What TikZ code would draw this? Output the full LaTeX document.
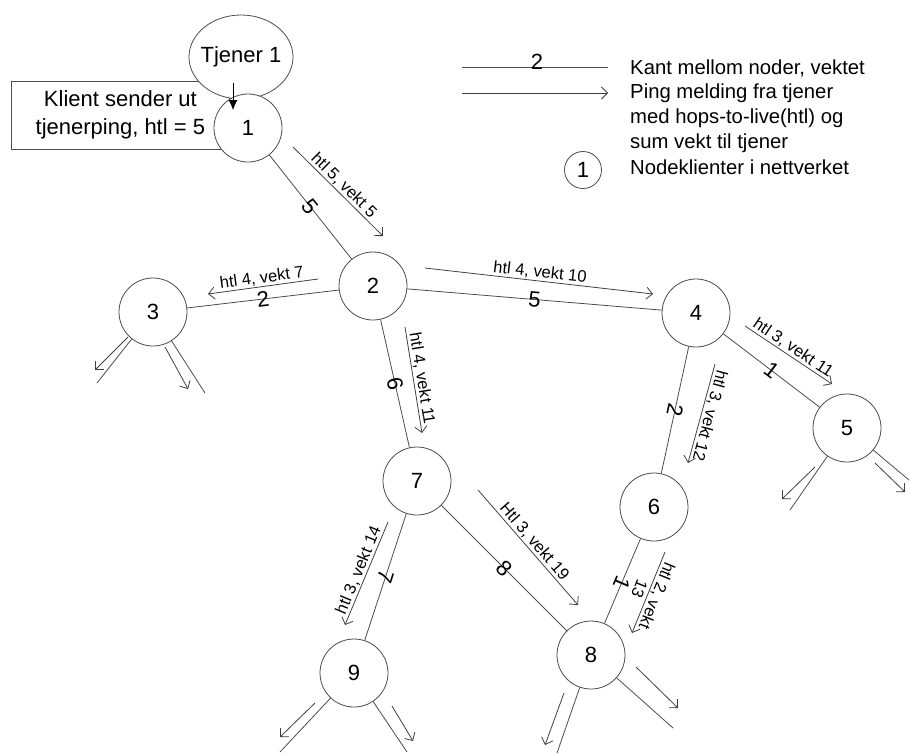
\documentclass[tikz,border=0pt]{standalone}
\usepackage{fontspec}
\setmainfont{Liberation Sans}
\usetikzlibrary{arrows.meta,shapes.geometric}

\begin{document}
\begin{tikzpicture}[x=1pt,y=-1pt,
  knot/.style={circle,draw=black!70,fill=white,line width=0.8pt,minimum size=68pt,inner sep=0pt,font=\fontsize{22}{26}\selectfont},
  kant/.style={draw=black!70,line width=0.8pt},
  ping/.style={draw=black!75,line width=0.8pt,-{Straight Barb[length=6pt,width=12pt]}},
  vekt/.style={sloped,allow upside down,inner sep=0pt,font=\fontsize{22}{26}\selectfont},
  htl/.style={sloped,above,inner sep=1pt,font=\fontsize{16.5}{19}\selectfont},
  forklaring/.style={anchor=west,align=left,inner sep=0pt,font=\fontsize{20.3}{25}\selectfont}]
\useasboundingbox (0,0) rectangle (909,753);

% tjener og klient
\node[draw=black!70,line width=0.8pt,minimum width=218pt,minimum height=68pt,align=center,font=\fontsize{22}{28}\selectfont,anchor=west] (klient) at (11,115) {Klient sender ut\\tjenerping, htl = 5};
\node[ellipse,draw=black!70,fill=white,line width=0.8pt,minimum width=104pt,minimum height=84pt,inner xsep=-10pt,inner ysep=0pt,font=\fontsize{22}{26}\selectfont] (tjener) at (241,57) {Tjener 1};

% noder
\node[knot] (n1) at (248,128) {1};
\node[knot] (n2) at (373,286) {2};
\node[knot] (n3) at (153,312) {3};
\node[knot] (n4) at (696,313) {4};
\node[knot] (n5) at (847,428) {5};
\node[knot] (n6) at (654,507) {6};
\node[knot] (n7) at (417,481) {7};
\node[knot] (n8) at (591,655) {8};
\node[knot] (n9) at (354,673) {9};

\draw[-{Latex[length=10pt,width=9pt]},line width=0.8pt] ([shift={(-8,26)}]tjener.center) -- ([shift={(-15,-18)}]n1.center);

% kanter
\draw[kant] (n1) -- node[vekt] (w12) {5} (n2);
\draw[kant] (n3) -- node[vekt] (w32) {2} (n2);
\draw[kant] (n2) -- node[vekt] (w24) {5} (n4);
\draw[kant] (n2) -- node[vekt] (w27) {6} (n7);
\draw[kant] (n4) -- node[vekt] (w45) {1} (n5);
\draw[kant] (n4) -- node[vekt] (w46) {2} (n6);
\draw[kant] (n6) -- node[vekt,pos=.52] (w68) {1} (n8);
\draw[kant] (n7) -- node[vekt] (w78) {8} (n8);
\draw[kant] (n7) -- node[vekt] (w79) {7} (n9);

% kanter ut av bildet
\coordinate (s3a) at (97,383);
\coordinate (s3b) at (205,393);
\coordinate (s5a) at (790,510);
\coordinate (s5b) at (909,480);
\coordinate (s8a) at (557,753);
\coordinate (s8b) at (673,728);
\coordinate (s9a) at (280,752);
\coordinate (s9b) at (407,752);
\foreach \n/\s in {n3/s3a,n3/s3b,n5/s5a,n5/s5b,n8/s8a,n8/s8b,n9/s9a,n9/s9b}
  \draw[kant] (\n) -- (\s);

% ping meldinger
\draw[ping] (293,147) -- node[htl] (h12) {htl 5, vekt 5} (383,236);
\draw[ping] (318,279) -- node[htl] (h23) {htl 4, vekt 7} (208,294);
\draw[ping] (425,268) -- node[htl] (h24) {htl 4, vekt 10} (653,294);
\draw[ping] (405,327) -- node[htl] (h27) {htl 4, vekt 11} (422,433);
\draw[ping] (745,326) -- node[htl] (h45) {htl 3, vekt 11} (832,384);
\draw[ping] (715,364) -- node[htl,allow upside down] (h46) {htl 3, vekt 12} (688,463);
\draw[ping] (665,552) -- node[htl,allow upside down,anchor=center,align=center] (h68) {htl 2, vekt\\13} (632,633);
\draw[ping] (478,490) -- node[htl] (h78) {Htl 3, vekt 19} (578,605);
\draw[ping] (388,522) -- node[htl] (h79) {htl 3, vekt 14} (345,625);
\draw[ping] (128,337) -- (95,370);
\draw[ping] (165,347) -- (188,389);
\draw[ping] (815,467) -- (782,499);
\draw[ping] (875,463) -- (905,492);
\draw[ping] (564,693) -- (545,745);
\draw[ping] (636,667) -- (678,708);
\draw[ping] (315,703) -- (280,737);
\draw[ping] (392,706) -- (413,741);

% forklaring
\draw[kant] (462,67) -- (608,67);
\node[inner sep=0pt,font=\fontsize{22}{26}\selectfont] (legvekt) at (537,62) {2};
\draw[ping] (462,93) -- (608,93);
\node[knot,minimum size=37pt] (legnode) at (583,170) {1};
\node[forklaring] (txtkant) at (630,68) {Kant mellom noder, vektet};
\node[forklaring] (txtping) at (630,118) {Ping melding fra tjener\\med hops-to-live(htl) og\\sum vekt til tjener};
\node[forklaring] (txtnode) at (630,167) {Nodeklienter i nettverket};
\end{tikzpicture}
\end{document}
